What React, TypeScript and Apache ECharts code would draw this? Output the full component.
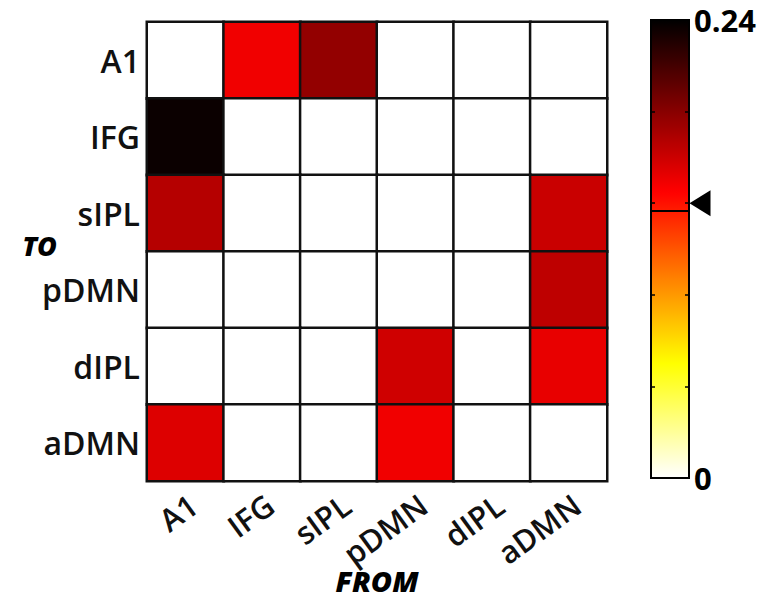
import React, { useEffect, useRef } from "react";
import * as echarts from "echarts";

const fromRegions = ["A1", "IFG", "sIPL", "pDMN", "dIPL", "aDMN"];
const toRegions = ["A1", "IFG", "sIPL", "pDMN", "dIPL", "aDMN"];

// rows = TO, columns = FROM
const rowA1 = [0, 0.155, 0.188, 0, 0, 0];
const rowIFG = [0.236, 0, 0, 0, 0, 0];
const rowSIPL = [0.176, 0, 0, 0, 0, 0.169];
const rowPDMN = [0, 0, 0, 0, 0, 0.173];
const rowDIPL = [0, 0, 0, 0.167, 0, 0.158];
const rowADMN = [0.162, 0, 0, 0.155, 0, 0];
const matrix = [rowA1, rowIFG, rowSIPL, rowPDMN, rowDIPL, rowADMN];

const scaleMin = 0;
const scaleMax = 0.24;
const tickStep = 0.048;
const threshold = 0.144;

// reversed "hot" colormap stops (white -> yellow -> red -> black)
const hotReversed = [
  "#ffffff",
  "#ffff80",
  "#ffff00",
  "#ffaa00",
  "#ff5500",
  "#ff0000",
  "#aa0000",
  "#550000",
  "#000000",
];

const FONT = "'Open Sans', 'Noto Sans', sans-serif";

export default function App() {
  const ref = useRef<HTMLDivElement>(null);
  useEffect(() => {
    if (!ref.current) return;
    const chart = echarts.init(ref.current, undefined, { renderer: "svg" });
    const data: number[][] = [];
    matrix.forEach((row, yi) =>
      row.forEach((v, xi) => data.push([xi, yi, v]))
    );
    chart.setOption({
      animation: false,
      backgroundColor: "#ffffff",
      grid: [
        {
          left: 147,
          top: 22,
          width: 460,
          height: 459,
          containLabel: false,
          outerBoundsMode: "none",
        },
        {
          left: 651,
          top: 20,
          width: 38,
          height: 458,
          show: true,
          borderColor: "#000",
          borderWidth: 2,
          backgroundColor: "transparent",
          z: 5,
          containLabel: false,
          outerBoundsMode: "none",
        },
      ],
      xAxis: [
        {
          type: "category",
          gridIndex: 0,
          data: fromRegions,
          position: "bottom",
          axisLine: { show: false },
          axisTick: { show: false },
          splitLine: { show: false },
          axisLabel: {
            rotate: 36,
            margin: 26,
            padding: [0, -10, 0, 0],
            fontFamily: FONT,
            fontSize: 31,
            fontWeight: 600,
            color: "#111",
            interval: 0,
          },
          name: "FROM",
          nameLocation: "middle",
          nameGap: 84,
          nameMoveOverlap: false,
          nameTextStyle: {
            fontFamily: FONT,
            fontSize: 29,
            fontWeight: 900,
            fontStyle: "italic",
            color: "#000",
            lineHeight: 30,
          },
        },
        {
          type: "value",
          gridIndex: 1,
          min: 0,
          max: 1,
          show: false,
        },
      ],
      yAxis: [
        {
          type: "category",
          gridIndex: 0,
          data: toRegions,
          inverse: true,
          axisLine: { show: false },
          axisTick: { show: false },
          splitLine: { show: false },
          axisLabel: {
            margin: 7,
            fontFamily: FONT,
            fontSize: 32,
            fontWeight: 600,
            color: "#111",
            interval: 0,
          },
          name: "TO",
          nameLocation: "middle",
          nameRotate: 0,
          nameGap: 90,
          nameMoveOverlap: false,
          nameTextStyle: {
            fontFamily: FONT,
            fontSize: 27,
            fontWeight: 900,
            fontStyle: "italic",
            color: "#000",
            verticalAlign: "bottom",
            lineHeight: 12,
          },
        },
        {
          type: "value",
          gridIndex: 1,
          position: "left",
          min: scaleMin,
          max: scaleMax,
          interval: tickStep,
          z: 6,
          axisLine: { show: false },
          axisTick: {
            show: true,
            inside: true,
            length: 4,
            lineStyle: { color: "#000", width: 1.5 },
          },
          axisLabel: { show: false },
          splitLine: { show: false },
        },
        {
          type: "value",
          gridIndex: 1,
          position: "right",
          min: scaleMin,
          max: scaleMax,
          interval: tickStep,
          z: 6,
          axisLine: { show: false },
          axisTick: {
            show: true,
            inside: true,
            length: 4,
            lineStyle: { color: "#000", width: 1.5 },
          },
          axisLabel: {
            margin: 5,
            fontFamily: FONT,
            fontSize: 31,
            fontWeight: "bold",
            color: "#000",
            formatter: (v: number) =>
              Math.abs(v - scaleMin) < 1e-9
                ? String(scaleMin)
                : Math.abs(v - scaleMax) < 1e-9
                ? String(scaleMax)
                : "",
          },
          splitLine: { show: false },
        },
      ],
      visualMap: {
        type: "continuous",
        seriesIndex: 0,
        min: scaleMin,
        max: scaleMax,
        calculable: false,
        orient: "vertical",
        left: 651,
        top: 20,
        itemWidth: 38,
        itemHeight: 458,
        padding: 0,
        inRange: { color: hotReversed },
        textStyle: { color: "transparent" },
        text: ["", ""],
      },
      series: [
        {
          type: "heatmap",
          xAxisIndex: 0,
          yAxisIndex: 0,
          data,
          itemStyle: { borderColor: "#111", borderWidth: 2.5 },
          emphasis: { disabled: true },
        },
        {
          type: "scatter",
          xAxisIndex: 1,
          yAxisIndex: 1,
          z: 8,
          data: [[1, threshold]],
          symbol: "triangle",
          symbolSize: [26, 21],
          symbolRotate: 90,
          symbolOffset: [11, 0],
          itemStyle: { color: "#000", opacity: 1 },
          silent: true,
          markLine: {
            silent: true,
            symbol: ["none", "none"],
            label: { show: false },
            lineStyle: { color: "#000", width: 2, type: "solid" },
            data: [{ yAxis: threshold }],
          },
        },
      ],
    });
    return () => chart.dispose();
  }, []);
  return (
    <div
      ref={ref}
      style={{ position: "fixed", left: 0, top: 0, width: 765, height: 598 }}
    />
  );
}
